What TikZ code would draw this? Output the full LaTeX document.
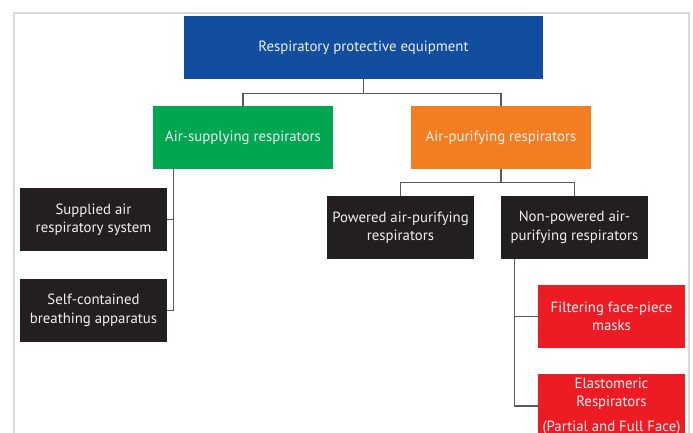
\documentclass[tikz,border=0pt]{standalone}
\usepackage{fontspec}
\setmainfont{PT Sans}
\usepackage{tikz}
\usetikzlibrary{positioning}

\definecolor{rpeblue}{HTML}{114EA0}
\definecolor{rpegreen}{HTML}{00A650}
\definecolor{rpeorange}{HTML}{F37E22}
\definecolor{rpeblack}{HTML}{231F20}
\definecolor{rpered}{HTML}{ED1C24}
\definecolor{framegrey}{HTML}{D9D9D9}
\definecolor{linkgrey}{HTML}{5A5A5A}

\begin{document}
\begin{tikzpicture}[x=1pt,y=-1pt,
		box/.style={inner sep=0pt,text=white!94!black,align=center,minimum height=63pt,font=\fontsize{14.8}{18.5}\selectfont},
		wide/.style={box,minimum width=180pt},
		small/.style={box,minimum width=147pt},
		link/.style={draw=linkgrey,line width=1.3pt}]
			%\draw [help lines] (0,0) grid (693,433);
			\useasboundingbox (0,0) rectangle (693,433);
			\clip (0,0) rectangle (693,433);
			\draw [framegrey, line width=2.5pt] (14,440) |- (689,13) -- (689,440);
			
			\node [box, fill=rpeblue, minimum width=359pt] (rpe) at (363.5,47.5) {Respiratory protective equipment};
			\node [wide, fill=rpegreen] (asr) at (243,137.5) {Air-supplying respirators};
			\node [wide, fill=rpeorange] (apr) at (501,137.5) {Air-purifying respirators};
			
			\node [small, fill=rpeblack] (sar) at (93.5,219.5) {Supplied air\\respiratory system};
			\node [small, fill=rpeblack] (scba) at (93.5,310.5) {Self-contained\\breathing apparatus};
			\node [small, fill=rpeblack] (papr) at (400.5,227.5) {Powered air-purifying\\respirators};
			\node [small, fill=rpeblack] (npapr) at (574.5,227.5) {Non-powered air-\\purifying respirators};
			
			\node [small, fill=rpered] (ffm) at (611.5,316.5) {Filtering face-piece\\masks};
			\node [small, fill=rpered, minimum height=64pt] (elr) at (611.5,406) {Elastomeric\\Respirators\\[6pt](Partial and Full Face)};
			
			\draw [link] (rpe.south) -- ++(0,14) coordinate (j1);
			\draw [link] (asr.north) |- (j1) -| (apr.north);
			\draw [link] (apr.south) -- ++(0,13) coordinate (j2);
			\draw [link] (papr.north) |- (j2) -| (npapr.north);
			\draw [link] (asr.south west) ++(21,0) coordinate (j3) |- (sar.east);
			\draw [link] (j3) |- (scba.east);
			\draw [link] (npapr.south west) ++(14,0) coordinate (j4) |- (ffm.west);
			\draw [link] (j4) |- (elr.west);
	\end{tikzpicture}
\end{document}
